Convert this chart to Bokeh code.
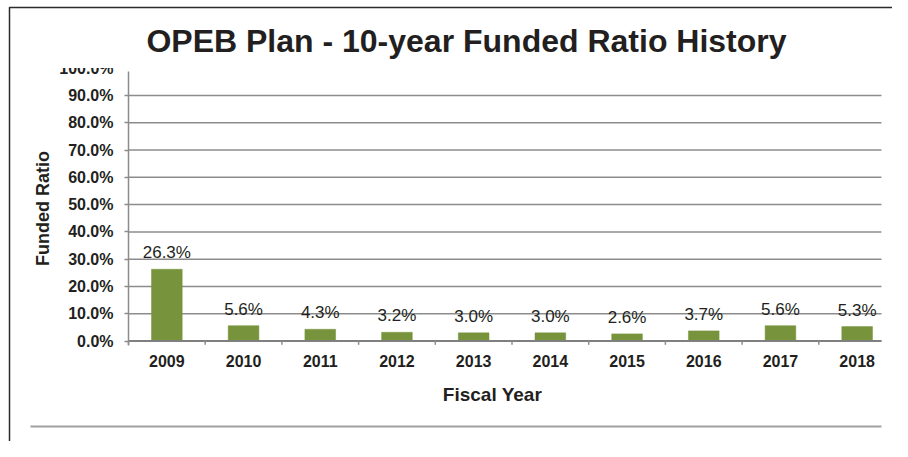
from bokeh.plotting import figure
from bokeh.models import (Range1d, FixedTicker, LinearAxis, Label, ColumnDataSource, LabelSet)
from bokeh.core.properties import value
from bokeh.embed import file_html
from bokeh.resources import INLINE

years = ["2009", "2010", "2011", "2012", "2013", "2014", "2015", "2016", "2017", "2018"]
ratios = [26.3, 5.6, 4.3, 3.2, 3.0, 3.0, 2.6, 3.7, 5.6, 5.3]
y_ticks = [0, 10, 20, 30, 40, 50, 60, 70, 80, 90]
y_tick_labels = [f"{t:.1f}%" for t in y_ticks]
y_cut_tick = 100   # top tick, cut off by the plot area in the original
y_cut_label = f"{y_cut_tick:.1f}%"

TITLE = "OPEB Plan - 10-year Funded Ratio History"
X_TITLE = "Fiscal Year"
Y_TITLE = "Funded Ratio"
FONT = "Liberation Sans"
TXT = "#231f20"
GREEN = "#77933C"
GRID = "#8c8c8c"

# layout constants (pixels) -> data ranges
W, H = 892, 441
PX_X = 76.7          # pixels per category
PX_Y = 2.728         # pixels per percentage point
X0, Y0 = 128, 340.5  # pixel position of (0, 0)
X_END = 9.817        # right end of plot area in category units
Y_TOP = 98.84        # top of plot area

x_range = Range1d(-X0 / PX_X, (W - X0) / PX_X)
y_range = Range1d(-(H - Y0) / PX_Y, Y0 / PX_Y)

def ux(px):
    return (px - X0) / PX_X

def vy(py):
    return (Y0 - py) / PX_Y

p = figure(width=W, height=H, output_backend="svg", toolbar_location=None,
           x_range=x_range, y_range=y_range, min_border=0,
           x_axis_location=None, y_axis_location=None)
p.outline_line_color = None
p.xgrid.grid_line_color = None
p.ygrid.grid_line_color = None
p.background_fill_color = "white"
p.border_fill_color = "white"

# cut-off top tick label (only its lower part shows below the title area)
p.text(x=[ux(113)], y=[y_cut_tick], text=[y_cut_label], text_align="right",
       text_baseline="middle", text_font=value(FONT), text_font_size="16px",
       text_font_style="bold", text_color=TXT)
p.quad(left=[ux(40)], right=[ux(124)], top=[vy(50)], bottom=[vy(67.5)],
       fill_color="white", line_color=None)

# gridlines across the plot area
p.segment(x0=[0] * len(y_ticks), x1=[X_END] * len(y_ticks), y0=y_ticks, y1=y_ticks,
          line_color=GRID, line_width=1.5)

# y axis
yax = LinearAxis(ticker=FixedTicker(ticks=y_ticks), fixed_location=0,
                 bounds=(-1.5, Y_TOP),
                 major_label_overrides={t: l for t, l in zip(y_ticks, y_tick_labels)})
yax.axis_line_color = GRID
yax.axis_line_width = 1.5
yax.major_tick_line_color = GRID
yax.major_tick_line_width = 1.5
yax.major_tick_out = 4
yax.major_tick_in = 0
yax.minor_tick_line_color = None
yax.major_label_text_font = FONT
yax.major_label_text_font_size = "16px"
yax.major_label_text_font_style = "bold"
yax.major_label_text_color = TXT
yax.major_label_standoff = 11
yax.axis_label = Y_TITLE
yax.axis_label_text_font = FONT
yax.axis_label_text_font_size = "18px"
yax.axis_label_text_font_style = "bold"
yax.axis_label_text_color = TXT
yax.axis_label_standoff = 12
p.add_layout(yax, "left")

# x axis (labels only, at category centres)
centres = [i + 0.5 for i in range(len(years))]
xax = LinearAxis(ticker=FixedTicker(ticks=centres), fixed_location=0,
                 major_label_overrides={c: y for c, y in zip(centres, years)})
xax.axis_line_color = None
xax.major_tick_line_color = None
xax.minor_tick_line_color = None
xax.major_label_text_font = FONT
xax.major_label_text_font_size = "16px"
xax.major_label_text_font_style = "bold"
xax.major_label_text_color = TXT
xax.major_label_standoff = 8
p.add_layout(xax, "below")

# bars
src = ColumnDataSource(dict(x=centres, top=ratios, year=years,
                            lbl=[f"{v:.1f}%" for v in ratios]))
p.vbar(x="x", top="top", bottom=0, width=0.40, source=src,
       fill_color=GREEN, line_color=GREEN, line_width=0.5)

# x axis line and category boundary ticks
p.segment(x0=[0], x1=[X_END], y0=[0], y1=[0], line_color="#7f7f7f", line_width=2)
bounds = list(range(len(years)))
p.segment(x0=bounds, y0=[0] * len(bounds), x1=bounds, y1=[-1.4] * len(bounds),
          line_color=GRID, line_width=1.5)

# value labels
p.add_layout(LabelSet(x="x", y="top", text="lbl", source=src, text_align="center",
                      text_baseline="alphabetic", y_offset=11, text_font=value(FONT),
                      text_font_size=value("17px"), text_color=TXT))

# chart title and x axis title
p.add_layout(Label(x=ux(466), y=vy(40.5), text=TITLE, text_align="center",
                   text_baseline="middle", text_font=FONT, text_font_size="32px",
                   text_font_style="bold", text_color=TXT))
p.add_layout(Label(x=ux(492), y=vy(394), text=X_TITLE, text_align="center",
                   text_baseline="middle", text_font=FONT, text_font_size="19px",
                   text_font_style="bold", text_color=TXT))

# chart border (left + top) and bottom separator
p.line(x=[ux(9), ux(9), ux(W + 20)], y=[vy(H + 20), vy(7), vy(7)],
       line_color="#2b2b2b", line_width=1.5)
p.line(x=[ux(30), X_END], y=[vy(426), vy(426)], line_color="#a0a0a0", line_width=2)

open("out.html", "w").write(file_html(p, INLINE))
